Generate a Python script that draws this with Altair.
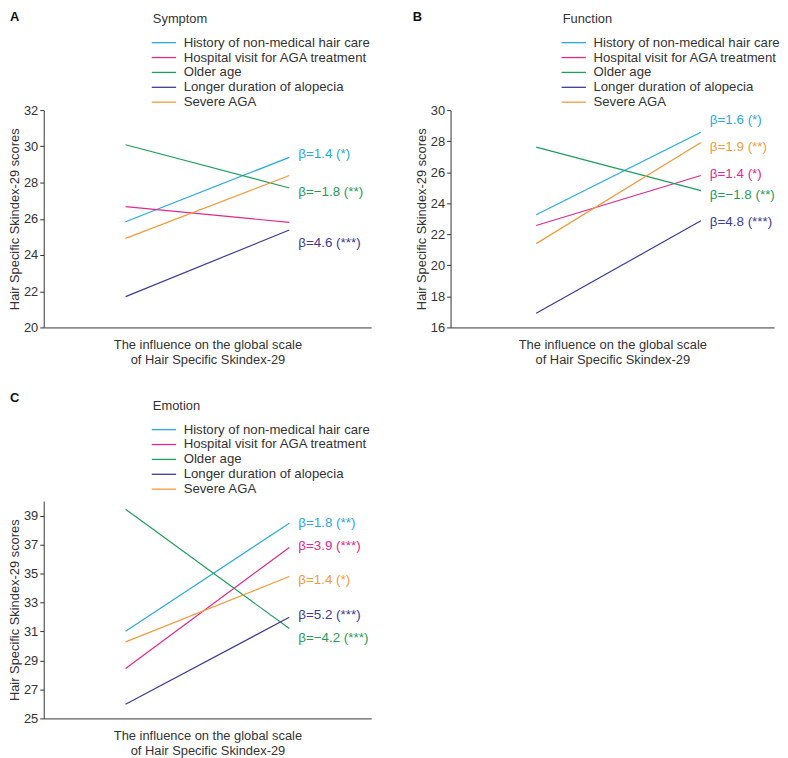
import altair as alt
import pandas as pd

series = ["History of non-medical hair care", "Hospital visit for AGA treatment",
          "Older age", "Longer duration of alopecia", "Severe AGA"]
colors = ["#29a9e0", "#e2288c", "#1f9d5c", "#3d3b96", "#f39a3b"]
x_pos = [0.25, 0.75]

# Panel A - Symptom
a_start = [25.84, 26.67, 30.09, 21.70, 24.92]
a_end = [29.39, 25.80, 27.70, 25.38, 28.39]
a_lab_series = [0, 2, 3]
a_lab_text = ["β=1.4 (*)", "β=−1.8 (**)", "β=4.6 (***)"]
a_lab_y = [29.57, 27.50, 24.67]
a_ticks = [20, 22, 24, 26, 28, 30, 32]

# Panel B - Function
b_start = [23.26, 22.57, 27.62, 16.91, 21.40]
b_end = [28.57, 25.79, 24.81, 22.87, 27.91]
b_lab_series = [0, 4, 1, 2, 3]
b_lab_text = ["β=1.6 (*)", "β=1.9 (**)", "β=1.4 (*)", "β=−1.8 (**)", "β=4.8 (***)"]
b_lab_y = [29.36, 27.62, 25.91, 24.51, 22.77]
b_ticks = [16, 18, 20, 22, 24, 26, 28, 30]

# Panel C - Emotion
c_start = [31.02, 28.45, 39.43, 25.98, 30.28]
c_end = [38.47, 36.80, 31.20, 31.98, 34.79]
c_lab_series = [0, 1, 4, 3, 2]
c_lab_text = ["β=1.8 (**)", "β=3.9 (***)", "β=1.4 (*)", "β=5.2 (***)", "β=−4.2 (***)"]
c_lab_y = [38.47, 36.87, 34.58, 32.11, 30.58]
c_ticks = [25, 27, 29, 31, 33, 35, 37, 39]

FONT = "Liberation Sans"
TXT = "#333333"
W, H = 330, 219


def panel(letter, title, start, end, lab_series, lab_text, lab_y, domain, ticks,
          width, xdomain, letter_x, letter_y, legend_x, legend_y):
    rows = []
    for i, s in enumerate(series):
        rows.append({"series": s, "x": x_pos[0], "y": start[i]})
        rows.append({"series": s, "x": x_pos[1], "y": end[i]})
    df = pd.DataFrame(rows)
    lab = pd.DataFrame({
        "x": [x_pos[1]] * len(lab_text),
        "y": lab_y,
        "text": lab_text,
        "col": [colors[i] for i in lab_series],
    })
    xenc = alt.X("x:Q", scale=alt.Scale(domain=xdomain, nice=False, zero=False),
                 axis=alt.Axis(title=["The influence on the global scale", "of Hair Specific Skindex-29"],
                               labels=False, ticks=False, grid=False, domain=True,
                               titlePadding=11, titleLineHeight=15))
    yenc = alt.Y("y:Q", scale=alt.Scale(domain=domain, nice=False, zero=False),
                 axis=alt.Axis(title="Hair Specific Skindex-29 scores", values=ticks, grid=False,
                               tickSize=4, labelPadding=2, titlePadding=2, labelOverlap=False))
    lines = alt.Chart(df).mark_line(strokeWidth=1.2).encode(
        x=xenc, y=yenc,
        color=alt.Color("series:N", sort=series,
                        scale=alt.Scale(domain=series, range=colors),
                        legend=alt.Legend(title=title, orient="none", legendX=legend_x, legendY=legend_y,
                                          symbolType="M-1.3,0H2.2", symbolSize=196,
                                          symbolStrokeWidth=1.3, labelOffset=15, rowPadding=-1,
                                          titlePadding=9, padding=0, labelLimit=0,
                                          labelFontSize=13.3,
                                          titleAnchor="start", titleAlign="left")),
    )
    texts = alt.Chart(lab).mark_text(align="left", baseline="middle", dx=9, fontSize=13.5,
                                     font=FONT).encode(
        x=xenc, y=yenc, text="text:N", color=alt.Color("col:N", scale=None, legend=None))
    let = alt.Chart(pd.DataFrame({"t": [letter]})).mark_text(
        align="left", baseline="alphabetic", fontWeight="bold", fontSize=13, font=FONT, color="#111"
    ).encode(x=alt.value(letter_x), y=alt.value(letter_y), text="t:N")
    return alt.layer(lines, texts, let).properties(width=width, height=H)


pa = panel("A", "Symptom", a_start, a_end, a_lab_series, a_lab_text, a_lab_y, [20, 32], a_ticks,
           W, [0, 1], -34, -90, 110, -98)
pb = panel("B", "Function", b_start, b_end, b_lab_series, b_lab_text, b_lab_y, [16, 30], b_ticks,
           326, [-0.01, 0.972], -38, -90, 113, -98)
pc = panel("C", "Emotion", c_start, c_end, c_lab_series, c_lab_text, c_lab_y, [25, 40], c_ticks,
           W, [0, 1], -34, -100, 110, -102)

chart = alt.vconcat(
    alt.hconcat(pa, pb, spacing=42).resolve_scale(color="independent", y="independent"),
    pc, spacing=26,
).resolve_scale(color="independent", y="independent").configure_view(stroke=None).configure_axis(
    domainColor=TXT, tickColor=TXT, labelColor=TXT, titleColor=TXT,
    labelFont=FONT, titleFont=FONT, labelFontSize=13, titleFontSize=13,
    titleFontWeight="normal", domainWidth=1, tickWidth=1,
).configure_legend(
    labelFont=FONT, titleFont=FONT, labelFontSize=13, titleFontSize=13,
    titleFontWeight="normal", labelColor=TXT, titleColor=TXT,
).properties(padding=0)

chart.save("out.html", embed_options={"renderer": "svg", "actions": False})
